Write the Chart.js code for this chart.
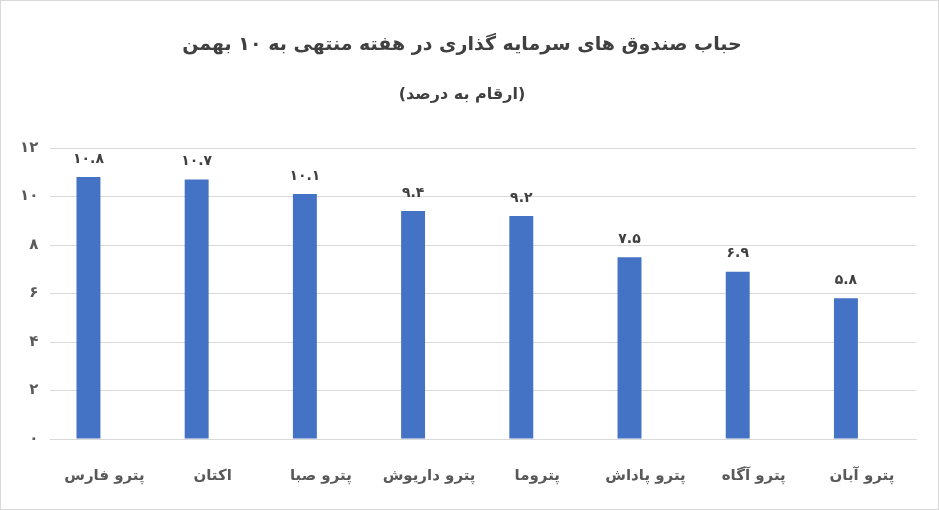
<!DOCTYPE html>
<html>
<head>
<meta charset="utf-8">
<script src="https://cdn.jsdelivr.net/npm/chart.js@4"></script>
<style>
  html, body { margin: 0; padding: 0; background: #fff; }
  #wrap { width: 937px; height: 508px; border: 1px solid #d9d9d9; position: relative; }
</style>
</head>
<body>
<div id="wrap"><canvas id="chart" width="937" height="508"></canvas></div>
<script>
// --- datos del gráfico ---
const titulo = 'حباب صندوق های سرمایه گذاری در هفته منتهی به ۱۰ بهمن';
const subtitulo = '(ارقام به درصد)';
const categorias = ['پترو فارس', 'اکتان', 'پترو صبا', 'پترو داریوش', 'پتروما', 'پترو پاداش', 'پترو آگاه', 'پترو آبان'];
const valores = [10.8, 10.7, 10.1, 9.4, 9.2, 7.5, 6.9, 5.8];
const serieVacia = []; // segunda serie sin datos (ocupa su hueco como en el original)
const ticksY = [0, 2, 4, 6, 8, 10, 12];

const FONT = "'DejaVu Sans', sans-serif";
const GRIS = '#595959';

const aPersa = (v) => String(v).replace(/\d/g, d => '۰۱۲۳۴۵۶۷۸۹'[d]);

// etiquetas encima de las barras
const etiquetas = {
    id: 'etiquetas',
    afterDatasetsDraw(chart) {
        const ctx = chart.ctx;
        const meta = chart.getDatasetMeta(0);
        ctx.save();
        ctx.font = 'bold 14px ' + FONT;
        ctx.fillStyle = '#404040';
        ctx.textAlign = 'center';
        ctx.textBaseline = 'bottom';
        meta.data.forEach((bar, i) => {
            ctx.fillText(aPersa(valores[i].toFixed(1)), bar.x, bar.y - 11);
        });
        ctx.restore();
    }
};

new Chart(document.getElementById('chart'), {
    type: 'bar',
    data: {
        labels: categorias,
        datasets: [
            { data: valores, backgroundColor: '#4472C4', barPercentage: 0.75, categoryPercentage: 0.59 },
            { data: serieVacia, backgroundColor: '#ED7D31', barPercentage: 0.75, categoryPercentage: 0.59 }
        ]
    },
    options: {
        responsive: false,
        animation: false,
        layout: { padding: { left: 7, right: 22, top: 0, bottom: 4 } },
        plugins: {
            legend: { display: false },
            tooltip: { enabled: false },
            title: {
                display: true,
                text: titulo,
                color: '#404040',
                font: { family: FONT, size: 19, weight: 'bold' },
                padding: { top: 33, bottom: 28 }
            },
            subtitle: {
                display: true,
                text: subtitulo,
                color: '#404040',
                font: { family: FONT, size: 16, weight: 'bold' },
                padding: { top: 0, bottom: 44 }
            }
        },
        scales: {
            x: {
                grid: { display: false },
                border: { color: '#d9d9d9', width: 1 },
                ticks: {
                    color: GRIS,
                    padding: 20,
                    maxRotation: 0,
                    font: { family: FONT, size: 15, weight: 'bold' }
                }
            },
            y: {
                min: 0,
                max: 12,
                afterBuildTicks: (axis) => { axis.ticks = ticksY.map(v => ({ value: v })); },
                grid: { color: '#d9d9d9', drawTicks: false },
                border: { display: false },
                ticks: {
                    color: GRIS,
                    padding: 12,
                    font: { family: FONT, size: 15, weight: 'bold' },
                    callback: (v) => aPersa(v)
                }
            }
        }
    },
    plugins: [etiquetas]
});
</script>
</body>
</html>
